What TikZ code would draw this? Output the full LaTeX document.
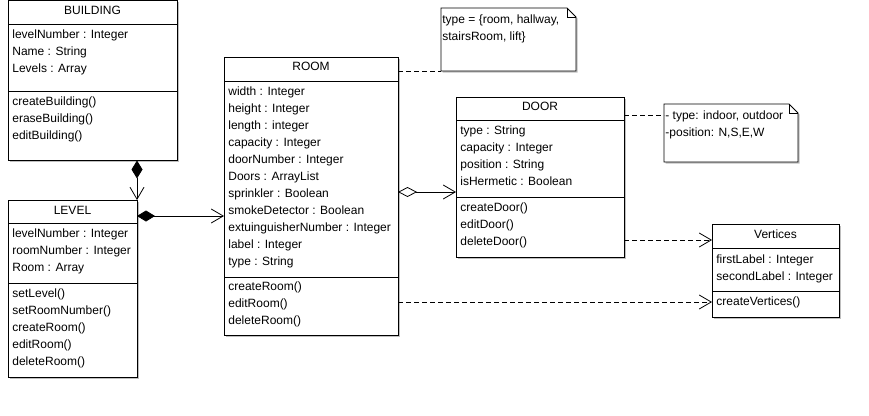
\documentclass[tikz,border=0pt]{standalone}
\usepackage{fontspec}
\setmainfont{Liberation Sans}
\usetikzlibrary{arrows.meta,shadows}

\begin{document}
\begin{tikzpicture}[
  x=1pt, y=-1pt,
  font=\fontsize{12}{17}\selectfont,
  line width=0.8pt,
  classbox/.style={draw, fill=white, anchor=north west, inner sep=0pt, outer sep=0pt, drop shadow={shadow xshift=1.5pt, shadow yshift=-1.5pt, fill=black!25, opacity=1}},
  classname/.style={anchor=base, inner sep=0pt},
  members/.style={anchor=base west, align=left, inner sep=0pt},
  notebox/.style={anchor=north west, inner sep=0pt, outer sep=0pt},
  notepath/.style={draw, fill=white, drop shadow={shadow xshift=1.5pt, shadow yshift=-1.5pt, fill=black!25, opacity=1}},
  comp/.style={{Diamond[length=18pt,width=11pt]}-{Straight Barb[length=12pt,width=14pt]}},
  aggr/.style={{Diamond[open,length=19pt,width=10pt]}-{Straight Barb[length=12pt,width=14pt]}},
  dep/.style={-{Straight Barb[length=12pt,width=14pt]}, dash pattern=on 5pt off 3pt},
  anno/.style={dash pattern=on 5pt off 3pt}
]
\useasboundingbox (0,0) rectangle (869,415);

% BUILDING (member nodes sit on the baseline of their last line)
\node[classbox, minimum width=169pt, minimum height=160pt] (building) at (8,0.5) {};
\node[classname] at (92.5,14) {BUILDING};
\draw (8,24) -- (177,24);
\draw (8,91) -- (177,91);
\node[members] at (12,72) {levelNumber : Integer\\Name : String\\Levels : Array};
\node[members] at (12,139) {createBuilding()\\eraseBuilding()\\editBuilding()};

% LEVEL
\node[classbox, minimum width=129pt, minimum height=177pt] (level) at (8,200) {};
\node[classname] at (72.5,214) {LEVEL};
\draw (8,223) -- (137,223);
\draw (8,283) -- (137,283);
\node[members] at (12,271) {levelNumber : Integer\\roomNumber : Integer\\Room : Array};
\node[members] at (12,365) {setLevel()\\setRoomNumber()\\createRoom()\\editRoom()\\deleteRoom()};

% ROOM
\node[classbox, minimum width=174pt, minimum height=278pt] (room) at (224,57) {};
\node[classname] at (311,70) {ROOM};
\draw (224,81) -- (398,81);
\draw (224,277) -- (398,277);
\node[members] at (228,265) {width : Integer\\height : Integer\\length : integer\\capacity : Integer\\doorNumber : Integer\\Doors : ArrayList\\sprinkler : Boolean\\smokeDetector : Boolean\\extuinguisherNumber : Integer\\label : Integer\\type : String};
\node[members] at (228,324) {createRoom()\\editRoom()\\deleteRoom()};

% DOOR
\node[classbox, minimum width=168pt, minimum height=160pt] (door) at (456,97) {};
\node[classname] at (540,110) {DOOR};
\draw (456,120) -- (624,120);
\draw (456,197) -- (624,197);
\node[members] at (460,185) {type : String\\capacity : Integer\\position : String\\isHermetic : Boolean};
\node[members] at (460,245) {createDoor()\\editDoor()\\deleteDoor()};

% Vertices
\node[classbox, minimum width=127pt, minimum height=93pt] (vertices) at (712,224) {};
\node[classname] at (775.5,238) {Vertices};
\draw (712,248) -- (839,248);
\draw (712,291) -- (839,291);
\node[members] at (716,280) {firstLabel : Integer\\secondLabel : Integer};
\node[members] at (716,305) {createVertices()};

% notes
\node[notebox, minimum width=135pt, minimum height=63pt] (typenote) at (441,8) {};
\draw[notepath] (typenote.north west) -- ([xshift=-9pt]typenote.north east) -- ([yshift=-9pt]typenote.north east) -- (typenote.south east) -- (typenote.south west) -- cycle;
\draw ([xshift=-9pt]typenote.north east) |- ([yshift=-9pt]typenote.north east);
\node[members] at (442,40) {type = \{room, hallway,\\stairsRoom, lift\}};

\node[notebox, minimum width=134pt, minimum height=58pt] (doornote) at (664,104) {};
\draw[notepath] (doornote.north west) -- ([xshift=-9pt]doornote.north east) -- ([yshift=-9pt]doornote.north east) -- (doornote.south east) -- (doornote.south west) -- cycle;
\draw ([xshift=-9pt]doornote.north east) |- ([yshift=-9pt]doornote.north east);
\node[members] at (665,136) {- type: indoor, outdoor\\-position: N,S,E,W};

% connectors
\coordinate (lr) at ([yshift=-16pt]level.north east);
\coordinate (rd) at ([yshift=-95pt]door.north west);
\coordinate (dn) at ([yshift=-11pt]doornote.north west);
\coordinate (dv) at ([yshift=-16pt]vertices.north west);
\coordinate (rv) at ([yshift=-78pt]vertices.north west);

\draw[comp] (building.south -| level.north east) -- (level.north east);
\draw[comp] (lr) -- (lr -| room.west);
\draw[aggr] (rd -| room.east) -- (rd);
\draw[anno] (room.east |- typenote.south west) -- (typenote.south west);
\draw[anno] (door.east |- dn) -- (dn);
\draw[dep] (door.east |- dv) -- (dv);
\draw[dep] (room.east |- rv) -- (rv);
\end{tikzpicture}
\end{document}
